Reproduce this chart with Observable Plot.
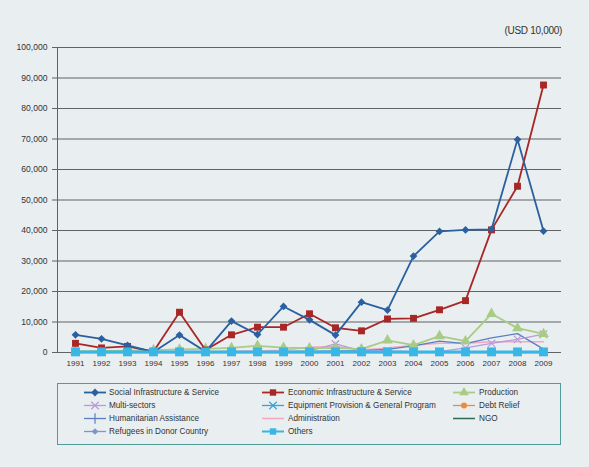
<!DOCTYPE html>
<html>
<head>
<meta charset="utf-8">
<script src="https://cdn.jsdelivr.net/npm/d3@7"></script>
<script src="https://cdn.jsdelivr.net/npm/@observablehq/plot@0.6"></script>
<style>
  body { margin: 0; background: #e9eef0; }
  #wrap { position: relative; width: 589px; height: 467px; background: #e9eef0; font-family: "Liberation Sans", Arial, sans-serif; }
  #chart { position: absolute; left: 0; top: 0; }
  #unit { position: absolute; right: 27px; top: 25px; font-size: 10px; color: #333; letter-spacing: -0.3px; }
  #legend { position: absolute; left: 0; top: 0; }
</style>
</head>
<body>
<div id="wrap">
  <div id="chart"></div>
  <div id="unit">(USD 10,000)</div>
  <svg id="legend" width="589" height="467"></svg>
</div>
<script>
const years = [1991,1992,1993,1994,1995,1996,1997,1998,1999,2000,2001,2002,2003,2004,2005,2006,2007,2008,2009];
const yTicks = [0,10000,20000,30000,40000,50000,60000,70000,80000,90000,100000];

const social       = [5800,4500,2300,200,5700,300,10300,5900,15100,10700,5700,16500,13900,31600,39700,40200,40400,69800,39800];
const economic     = [3000,1500,2000,300,13200,800,5800,8300,8300,12700,8100,7100,11000,11200,14000,17000,40200,54500,87700];
const production   = [400,500,600,800,1000,1200,1500,2200,1600,1400,1500,1100,4000,2400,5400,3700,12700,8000,6100];
const multiSectors = [200,200,200,200,200,200,200,300,300,500,2800,500,500,300,300,1500,3000,4300,6000];
const equipment    = [100,100,100,100,100,100,100,100,100,100,100,100,100,100,100,100,100,100,100];
const debtRelief   = [0,0,0,0,0,0,0,0,0,0,0,0,0,0,0,0,0,0,0];
const humanitarian = [200,200,200,200,200,200,300,300,300,400,500,600,1000,2200,3700,2900,4800,6200,1100];
const administration = [300,300,300,300,300,300,400,500,700,1700,2000,800,1500,2400,3000,3000,3500,3500,3500];
const ngo          = [0,0,0,0,0,0,0,0,0,0,0,0,0,0,0,0,0,0,0];
const refugees     = [200,200,200,200,200,200,200,200,200,200,200,200,200,200,200,200,200,200,200];
const others       = [200,200,200,200,200,200,200,200,200,200,200,200,200,200,200,200,200,200,200];

const seriesNames = ["Social Infrastructure & Service","Economic Infrastructure & Service","Production","Multi-sectors","Equipment Provision & General Program","Debt Relief","Humanitarian Assistance","Administration","NGO","Refugees in Donor Country","Others"];

const series = [
  {name: seriesNames[7],  values: administration, color: "#f2a7c3", symbol: null, sw: 1.5},
  {name: seriesNames[8],  values: ngo,            color: "#2f6b50", symbol: null, sw: 1.5},
  {name: seriesNames[5],  values: debtRelief,     color: "#ef8a3a", symbol: "circle", r: 3, fill: true, sw: 1.3},
  {name: seriesNames[4],  values: equipment,      color: "#3aa3d6", symbol: "times", r: 3.5, fill: false, sw: 1.3},
  {name: seriesNames[9],  values: refugees,       color: "#7d95c8", symbol: "diamond2", r: 3, fill: true, sw: 1.3},
  {name: seriesNames[6],  values: humanitarian,   color: "#5b7ec2", symbol: "plus", r: 3.5, fill: false, sw: 1.3, legendOnly: true},
  {name: seriesNames[3],  values: multiSectors,   color: "#b99bd8", symbol: "times", r: 3.5, fill: false, sw: 1.3},
  {name: seriesNames[2],  values: production,     color: "#a9cc85", symbol: "triangle", r: 4, fill: true, sw: 1.8},
  {name: seriesNames[1],  values: economic,       color: "#a82626", symbol: "square", r: 3.9, fill: true, sw: 1.8},
  {name: seriesNames[0],  values: social,         color: "#2a609f", symbol: "diamond2", r: 3.5, fill: true, sw: 1.8},
  {name: seriesNames[10], values: others,         color: "#38b6e6", symbol: "square", r: 5, fill: true, sw: 2.6}
];

const marks = [
  Plot.gridY(yTicks, {stroke: "#5f6366", strokeOpacity: 1, strokeWidth: 1}),
  Plot.frame({anchor: "left", stroke: "#5f6366"}),
  Plot.axisY(yTicks, {tickSize: 5, tickPadding: 5, tickFormat: d3.format(","), fontSize: 8.6, stroke: "#5f6366", fill: "#333"}),
  Plot.axisX({tickSize: 0, tickPadding: 8, tickFormat: d => String(d), fontSize: 8, fill: "#333"})
];
for (const s of series) {
  const data = years.map((y, i) => ({year: y, value: s.values[i]}));
  marks.push(Plot.line(data, {x: "year", y: "value", stroke: s.color, strokeWidth: s.sw}));
  if (s.symbol && !s.legendOnly) {
    marks.push(Plot.dot(data, s.fill
      ? {x: "year", y: "value", symbol: s.symbol, r: s.r, fill: s.color, stroke: "none"}
      : {x: "year", y: "value", symbol: s.symbol, r: s.r, stroke: s.color, strokeWidth: 1.2, fill: "none"}));
  }
}

const chart = Plot.plot({
  width: 589,
  height: 375,
  marginLeft: 57,
  marginRight: 28,
  marginTop: 47,
  marginBottom: 23,
  style: {background: "transparent", fontFamily: "Liberation Sans, Arial, sans-serif", fontSize: "8px", color: "#333"},
  x: {type: "point", domain: years, padding: 0.5, label: null},
  y: {domain: [0, 100000], label: null},
  marks
});
document.getElementById("chart").appendChild(chart);

// Legend
const legend = d3.select("#legend");
legend.append("rect").attr("x", 57.5).attr("y", 383.5).attr("width", 503).attr("height", 61)
  .attr("fill", "none").attr("stroke", "#4f9c98").attr("stroke-width", 1);
const layout = [
  [0, 0, 0], [3, 0, 1], [6, 0, 2], [9, 0, 3],
  [1, 1, 0], [4, 1, 1], [7, 1, 2], [10, 1, 3],
  [2, 2, 0], [5, 2, 1], [8, 2, 2]
];
const colX = [84, 262, 453];
const textX = [109, 288, 479];
const rowY = [392.5, 405.5, 418.5, 431.5];
const symbolMap = {circle: d3.symbolCircle, times: d3.symbolTimes, diamond2: d3.symbolDiamond2, plus: d3.symbolPlus, triangle: d3.symbolTriangle, square: d3.symbolSquare};
for (const [idx, c, r] of layout) {
  const s = series.find(d => d.name === seriesNames[idx]);
  const g = legend.append("g");
  const y = rowY[r];
  g.append("line").attr("x1", colX[c]).attr("x2", colX[c] + 22).attr("y1", y).attr("y2", y)
    .attr("stroke", s.color).attr("stroke-width", Math.min(s.sw, 2));
  if (s.symbol) {
    const size = Math.PI * Math.pow(Math.min(s.r, 3.6), 2);
    const p = d3.symbol(symbolMap[s.symbol], size)();
    const path = g.append("path").attr("d", p).attr("transform", `translate(${colX[c] + 11},${y})`);
    if (s.fill) path.attr("fill", s.color); else path.attr("fill", "none").attr("stroke", s.color).attr("stroke-width", 1.2);
  }
  g.append("text").attr("x", textX[c]).attr("y", y).attr("dy", "0.35em")
    .attr("font-size", 8.2).attr("fill", "#333").attr("font-family", "Liberation Sans, Arial, sans-serif")
    .text(s.name);
}
</script>
</body>
</html>
